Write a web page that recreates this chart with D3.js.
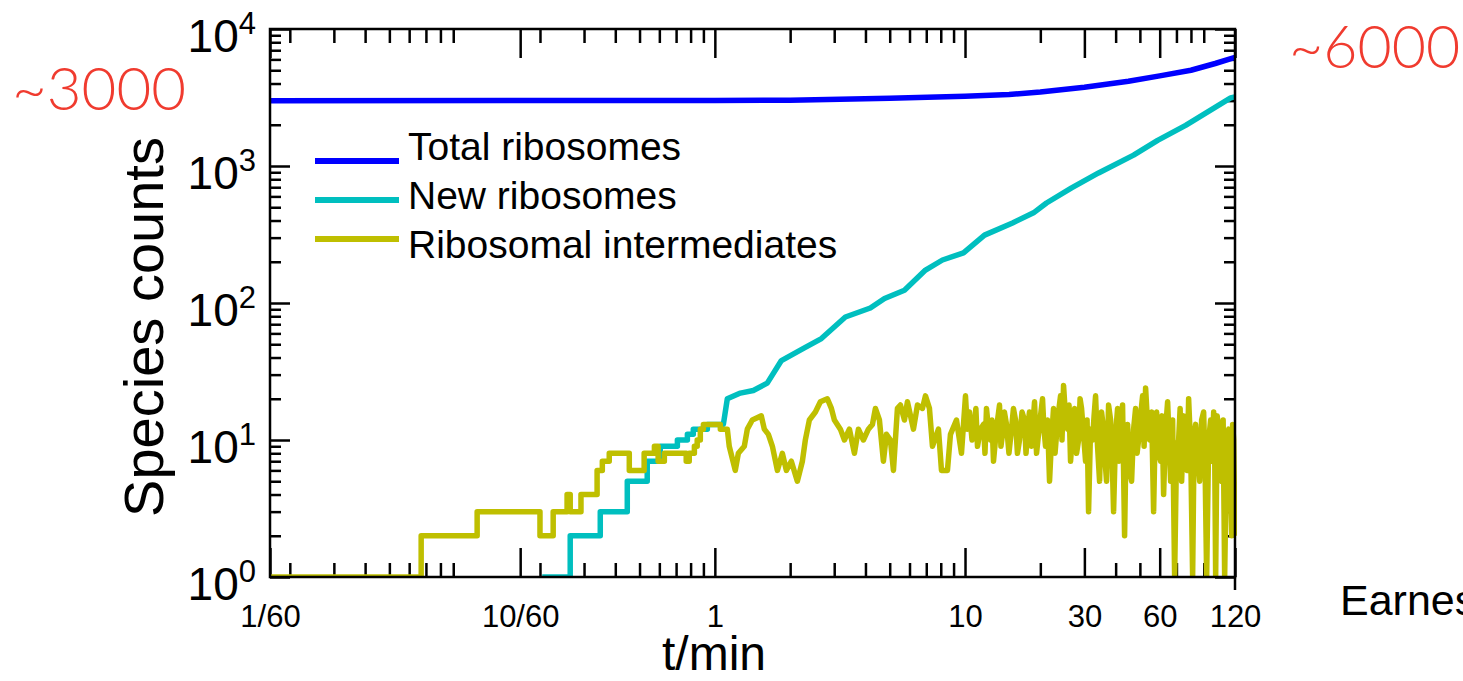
<!DOCTYPE html>
<html>
<head>
<meta charset="utf-8">
<script src="https://cdn.jsdelivr.net/npm/d3@7"></script>
<style>
  body { margin: 0; background: #fff; overflow: hidden; }
  text { font-family: "Liberation Sans", Arial, Helvetica, sans-serif; }
</style>
</head>
<body>
<div class="chart"></div>
<script>
// [time in seconds, count]
var totalRibosomes = [
    [1, 3000], [60, 3005], [120, 3020], [300, 3120], [600, 3230], [900, 3320],
    [1200, 3470], [1800, 3760], [2700, 4150], [3600, 4550], [4800, 5000],
    [6000, 5600], [7200, 6200]
];

var newRibosomes = [
    [12.25, 1], [15.85, 1], [15.85, 2], [20.9, 2], [20.9, 3], [26.8, 3], [26.8, 5],
    [32.2, 5], [32.2, 7], [36.3, 7], [36.3, 9], [42.5, 9], [42.5, 10], [46.6, 10],
    [46.6, 11], [49.2, 11], [49.2, 12], [56, 12], [56, 13], [64.9, 13], [67.3, 20],
    [75.9, 22], [85.5, 23], [97.2, 26], [110.7, 38], [136.8, 47], [160, 55],
    [199.5, 79], [251, 92], [286, 108], [343.6, 124], [417, 174], [487.5, 206],
    [591.6, 232], [717.8, 313], [929, 384], [1127, 455], [1270, 537], [1600, 693],
    [2051, 890], [2831, 1200], [3532, 1540], [4571, 1980], [6918, 3140], [7200, 3200]
];

var intermediates = [
    [1, 1], [4.02, 1], [4.02, 2], [6.73, 2], [6.73, 3], [12, 3], [12, 2], [13.55, 2],
    [13.55, 3], [15.4, 3], [15.4, 4], [15.85, 4], [15.85, 3], [17.5, 3], [17.5, 4],
    [20.3, 4], [20.3, 6], [21.3, 6], [21.3, 7], [22.7, 7], [22.7, 8], [27.3, 8],
    [27.3, 6], [31.3, 6], [31.3, 8], [34.4, 8], [34.4, 9], [35.6, 9], [35.6, 7],
    [37.7, 7], [37.7, 8], [46.1, 8], [46.1, 7], [47.4, 7], [47.4, 8], [49.7, 8],
    [49.7, 9], [51, 9], [51, 10], [52.5, 10], [52.5, 12], [54, 12], [54, 13],
    [63.1, 13], [63.1, 12], [67.3, 12],
    [68.5, 9], [72.4, 6], [74.5, 8], [78.7, 9], [80.9, 12], [84.7, 14], [92, 15],
    [94.6, 12], [98.2, 11], [101.9, 9], [106.7, 6], [111.7, 8], [115.9, 6], [121.3, 7],
    [128.2, 5], [134.3, 7], [138, 10], [143.2, 14], [151.4, 16], [158.5, 19], [169, 20],
    [175.4, 17], [180.3, 14], [190.5, 12], [197.7, 10], [207, 12], [216.8, 8],
    [224.9, 12], [235.5, 10], [246.6, 12], [255.9, 13], [263, 17], [272.9, 14],
    [283.1, 7], [291.1, 11], [302, 10], [310.5, 6], [322.1, 17], [331.1, 18],
    [343.6, 14], [353.2, 19], [373.3, 12], [387.3, 18], [405.5, 17], [416.9, 21],
    [432.5, 17], [444.6, 9], [469.9, 12], [483.1, 6], [510.5, 6], [524.8, 11],
    [554.6, 14], [580.8, 8], [602.6, 21], [613, 12], [625.2, 16], [640, 10],
    [654.6, 13], [663, 17], [673, 9], [692, 12], [711.2, 13], [721, 8], [731.1, 17],
    [745, 12], [758.6, 10], [769, 14], [779.8, 7], [801, 12], [824.1, 18], [835, 9],
    [847.2, 11], [862, 16], [879, 13], [899, 8], [920.4, 12], [937, 17], [955, 14],
    [972, 8], [990.8, 10], [1014, 16], [1037.6, 14], [1052, 8], [1066.6, 12],
    [1086, 16], [1106.6, 9], [1122, 13], [1137.6, 19], [1159, 8], [1180.3, 11],
    [1202, 15], [1224.6, 20], [1241, 12], [1258.9, 9], [1282, 14], [1306.2, 5],
    [1330, 10], [1355.2, 17], [1374, 8], [1393.2, 11], [1419, 16], [1445.4, 21],
    [1465, 10], [1485.9, 25], [1513, 15], [1541.7, 12], [1563, 18], [1584.9, 7],
    [1614, 11], [1644.4, 17], [1675, 8], [1706.1, 10], [1730, 20], [1753.9, 17],
    [1786, 11], [1819.7, 7], [1845, 14], [1870.7, 3], [1905, 12], [1940.9, 10],
    [1968, 15], [1995.3, 21], [2032, 9], [2070.1, 5], [2108, 16], [2147.8, 12],
    [2178, 7], [2208, 5], [2249, 18], [2290.9, 14], [2322, 8], [2355.1, 3],
    [2399, 11], [2443.5, 17], [2477, 7], [2511.9, 9], [2558, 18], [2606.2, 2],
    [2642, 10], [2679.2, 13], [2729, 6], [2779.7, 5], [2831, 12], [2884, 17],
    [2924, 8], [2964.8, 10], [3020, 15], [3076, 21], [3119, 9], [3162.3, 24],
    [3221, 13], [3280.9, 10], [3342, 16], [3404.1, 3], [3451, 11], [3499.5, 16],
    [3565, 8], [3630.8, 7], [3681, 15], [3732.5, 4], [3802, 12], [3872.6, 19],
    [3927, 10], [3981.1, 5], [4055, 14], [4130.5, 1], [4207, 9], [4285.5, 10],
    [4345, 17], [4405.5, 5], [4488, 15], [4570.9, 12], [4634, 6], [4698.9, 20],
    [4786, 9], [4875.3, 1], [4943, 11], [5011.9, 13], [5105, 8], [5200, 5],
    [5297, 14], [5395.2, 16], [5470, 6], [5546.3, 1], [5650, 10], [5754.4, 14],
    [5835, 7], [5915.6, 16], [5970, 9], [6025.6, 1], [6110, 15], [6194.4, 12],
    [6280, 8], [6367.9, 5], [6456, 14], [6546.1, 1], [6668, 10], [6792, 12],
    [6886, 6], [6982.3, 2], [7047, 13], [7112.2, 10], [7160, 4], [7200, 2]
];

var seriesNames = ["Total ribosomes", "New ribosomes", "Ribosomal intermediates"];
var seriesColors = ["#0000ff", "#00bfbf", "#bfbf00"];

var xMajor = [1, 10, 60, 600, 1800, 3600, 7200];
var xMajorLabels = ["1/60", "10/60", "1", "10", "30", "60", "120"];
var yMajor = [1, 10, 100, 1000, 10000];
var yExponents = ["0", "1", "2", "3", "4"];

var noteLeft = "~3000";
var noteRight = "~6000";

function drawChart() {
    var w = 1463;
    var h = 681;
    var left = 270, right = 1235, top = 29, bottom = 577;

    var svg = d3.select(".chart")
        .append("svg")
        .attr("width", w)
        .attr("height", h);

    var x = d3.scaleLog().domain([1, 7200]).range([left, right]);
    var y = d3.scaleLog().domain([1, 10000]).range([bottom, top]);

    // minor ticks at k * 10^n minutes, k = 2..9
    var xMinor = [];
    [0.01, 0.1, 1, 10].forEach(function (dec) {
        for (var k = 2; k <= 9; k++) {
            var s = k * dec * 60;
            var isMajor = xMajor.some(function (m) { return Math.abs(m - s) < 1e-6; });
            if (s > 1 && s < 7200 && !isMajor) xMinor.push(s);
        }
    });
    var yMinor = [];
    [1, 10, 100, 1000].forEach(function (dec) {
        for (var k = 2; k <= 9; k++) yMinor.push(k * dec);
    });

    function styleAxis(g) {
        g.select(".domain").remove();
        g.selectAll("line").attr("stroke", "#000").attr("stroke-width", 2.5);
    }

    // bottom + top
    svg.append("g").attr("transform", "translate(0," + bottom + ")")
        .call(d3.axisBottom(x).tickValues(xMinor).tickSize(-14).tickFormat(""))
        .call(styleAxis);
    var xAxis = svg.append("g").attr("transform", "translate(0," + bottom + ")")
        .call(d3.axisBottom(x).tickValues(xMajor).tickSize(-29).tickPadding(28)
            .tickFormat(function (d, i) { return xMajorLabels[i]; }))
        .call(styleAxis);
    xAxis.selectAll("text").attr("font-size", 31).attr("fill", "#000");

    svg.append("g").attr("transform", "translate(0," + top + ")")
        .call(d3.axisTop(x).tickValues(xMinor).tickSize(-14).tickFormat(""))
        .call(styleAxis);
    svg.append("g").attr("transform", "translate(0," + top + ")")
        .call(d3.axisTop(x).tickValues(xMajor).tickSize(-29).tickFormat(""))
        .call(styleAxis);

    // left + right
    svg.append("g").attr("transform", "translate(" + left + ",0)")
        .call(d3.axisLeft(y).tickValues(yMinor).tickSize(-11).tickFormat(""))
        .call(styleAxis);
    svg.append("g").attr("transform", "translate(" + left + ",0)")
        .call(d3.axisLeft(y).tickValues(yMajor).tickSize(-20).tickFormat(""))
        .call(styleAxis);
    svg.append("g").attr("transform", "translate(" + right + ",0)")
        .call(d3.axisRight(y).tickValues(yMinor).tickSize(-11).tickFormat(""))
        .call(styleAxis);
    svg.append("g").attr("transform", "translate(" + right + ",0)")
        .call(d3.axisRight(y).tickValues(yMajor).tickSize(-20).tickFormat(""))
        .call(styleAxis);

    svg.append("g").selectAll("text")
        .data(yMajor)
        .enter().append("text")
        .attr("x", left - 14)
        .attr("y", function (d) { return y(d) + 23; })
        .attr("text-anchor", "end")
        .attr("font-size", 46)
        .each(function (d, i) {
            var t = d3.select(this);
            t.append("tspan").text("10");
            t.append("tspan").attr("dy", -18).attr("font-size", 31).text(yExponents[i]);
        });

    // data lines
    svg.append("clipPath").attr("id", "plot-clip")
        .append("rect")
        .attr("x", left).attr("y", top)
        .attr("width", right - left + 2).attr("height", bottom - top);

    var line = d3.line()
        .x(function (d) { return x(d[0]); })
        .y(function (d) { return y(d[1]); });

    var series = [totalRibosomes, newRibosomes, intermediates];
    svg.append("g")
        .attr("clip-path", "url(#plot-clip)")
        .selectAll("path")
        .data(series)
        .enter().append("path")
        .attr("d", line)
        .attr("fill", "none")
        .attr("stroke", function (d, i) { return seriesColors[i]; })
        .attr("stroke-width", 5.5)
        .attr("stroke-linejoin", "round");

    // frame
    svg.append("rect")
        .attr("x", left).attr("y", top)
        .attr("width", right - left).attr("height", bottom - top)
        .attr("fill", "none")
        .attr("stroke", "#000")
        .attr("stroke-width", 2.5);
    svg.append("line")
        .attr("x1", x(7200)).attr("x2", x(7200))
        .attr("y1", bottom).attr("y2", bottom + 13)
        .attr("stroke", "#000").attr("stroke-width", 2.5);

    // legend
    var legend = svg.append("g");
    seriesNames.forEach(function (name, i) {
        legend.append("line")
            .attr("x1", 315).attr("x2", 399)
            .attr("y1", 161 + i * 39).attr("y2", 161 + i * 39)
            .attr("stroke", seriesColors[i])
            .attr("stroke-width", 6);
        legend.append("text")
            .text(name)
            .attr("x", 408)
            .attr("y", 160 + i * 49)
            .attr("font-size", 39);
    });

    // titles
    svg.append("text").text("t/min")
        .attr("x", 714).attr("y", 670)
        .attr("text-anchor", "middle")
        .attr("font-size", 48);
    svg.append("text").text("Species counts")
        .attr("transform", "translate(163,327) rotate(-90)")
        .attr("text-anchor", "middle")
        .attr("font-size", 56);

    // annotations
    svg.append("text").text(noteLeft)
        .attr("x", 12).attr("y", 110)
        .attr("font-size", 60)
        .attr("fill", "#f03b2f")
        .attr("style", "font-family: Lato, 'Open Sans', sans-serif; font-weight: 300;");
    svg.append("text").text(noteRight)
        .attr("x", 1289).attr("y", 68)
        .attr("font-size", 59)
        .attr("fill", "#f03b2f")
        .attr("style", "font-family: Lato, 'Open Sans', sans-serif; font-weight: 300;");
    svg.append("text").text("Earnest")
        .attr("x", 1340).attr("y", 615)
        .attr("font-size", 43);
}

drawChart();
</script>
</body>
</html>
